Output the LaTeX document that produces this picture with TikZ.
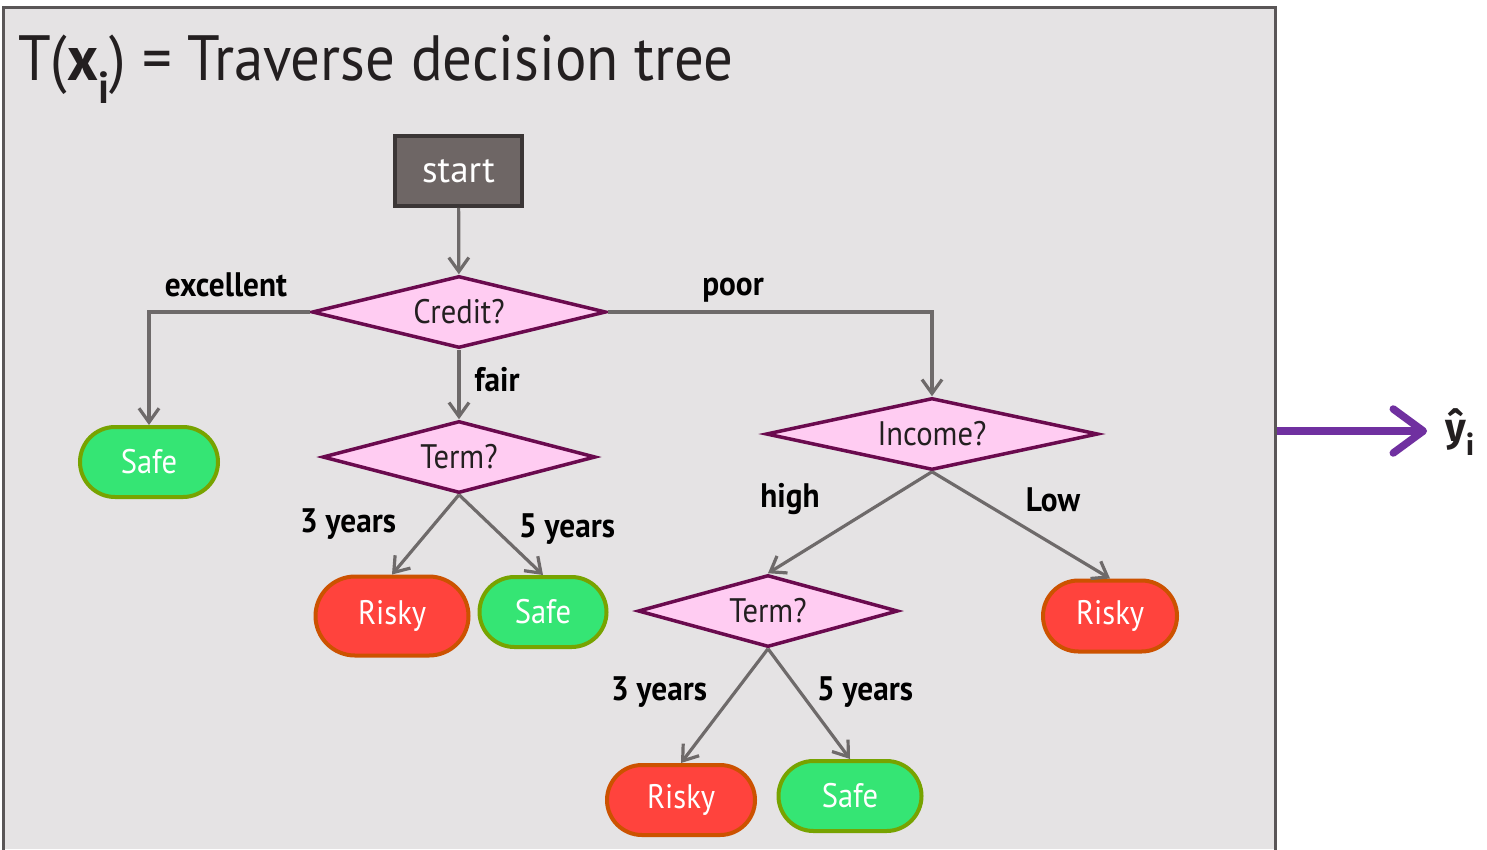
\documentclass[tikz,border=0pt]{standalone}
\usepackage{fontspec}
\setmainfont{PT Sans}
\newfontfamily\yfont{Fira Sans}
\usetikzlibrary{shapes.geometric,shapes.misc,arrows.meta}
\definecolor{bgc}{HTML}{E5E3E4}
\definecolor{framec}{HTML}{5A5657}
\definecolor{startfill}{HTML}{6E6665}
\definecolor{startdraw}{HTML}{3B3636}
\definecolor{dfill}{HTML}{FFCCF2}
\definecolor{ddraw}{HTML}{6A0A4E}
\definecolor{gfill}{HTML}{35E574}
\definecolor{gdraw}{HTML}{77A300}
\definecolor{rfill}{HTML}{FF433D}
\definecolor{rdraw}{HTML}{CC5200}
\definecolor{egray}{HTML}{6E6A6A}
\definecolor{purp}{HTML}{7030A0}
\definecolor{txt}{HTML}{231F20}
\newcommand{\nf}{\fontsize{34}{40}\selectfont}
\newcommand{\lf}{\fontsize{34}{40}\selectfont\bfseries}
\newcommand{\sq}[1]{\scalebox{0.9}[1]{#1}}
\newcommand{\sqlab}[1]{\scalebox{0.92}[1]{#1}}
\begin{document}
\begin{tikzpicture}[x=1pt,y=-1pt,
  startbox/.style={rectangle, fill=startfill, draw=startdraw, line width=3.5pt, minimum width=127pt, minimum height=70pt, text=white, font=\fontsize{37}{42}\selectfont, inner sep=0pt},
  dia/.style={diamond, fill=dfill, draw=ddraw, line width=3.5pt, inner sep=0pt, text=txt, font=\nf},
  safe/.style={rounded rectangle, fill=gfill, draw=gdraw, line width=4pt, text=white, font=\nf, minimum height=70pt, inner sep=0pt},
  risky/.style={rounded rectangle, fill=rfill, draw=rdraw, line width=4pt, text=white, font=\nf, minimum height=72pt, inner sep=0pt},
  conn/.style={draw=egray, line width=3.2pt, -{Straight Barb[length=14pt,width=20pt]}},
  lab/.style={text=black, font=\lf, inner sep=0pt}
]
\useasboundingbox (0,0) rectangle (1487,849);
\fill[white] (0,0) rectangle (1487,849);
\fill[bgc] (3,7) rectangle (1275,849);
\draw[framec, line width=3pt] (3,852) -- (3,7) -- (1275,7) -- (1275,852);

\node[anchor=base west, text=txt, inner sep=0pt, font=\fontsize{64}{70}\selectfont] (title) at (18,80)
  {\scalebox{0.92}[1]{T(\textbf{x\textsubscript{i}}) = Traverse decision tree}};

\node[startbox] (start) at (458.5,171) {start};
\node[dia, aspect=4.08, minimum width=294pt, minimum height=72pt] (credit) at (459,312) {\sq{Credit?}};
\node[dia, aspect=3.79, minimum width=273pt, minimum height=72pt] (term1) at (459,457) {\sq{Term?}};
\node[dia, aspect=4.61, minimum width=332pt, minimum height=72pt] (income) at (932,434) {\sq{Income?}};
\node[dia, aspect=3.61, minimum width=260pt, minimum height=72pt] (term2) at (768,611) {\sq{Term?}};

\node[safe, minimum width=138pt] (safe1) at (149,462) {\sq{Safe}};
\node[risky, minimum width=153pt, minimum height=79pt] (risky1) at (392,616) {\sq{Risky}};
\node[safe, minimum width=127pt] (safe2) at (543,612) {\sq{Safe}};
\node[risky, minimum width=134pt, minimum height=71pt] (risky2) at (1110,616) {\sq{Risky}};
\node[risky, minimum width=148pt, minimum height=70pt] (risky3) at (681,800) {\sq{Risky}};
\node[safe, minimum width=143pt] (safe3) at (850,796) {\sq{Safe}};

\draw[conn] (start) -- (credit);
\draw[conn] (credit.west) -| (safe1.north);
\draw[conn] (credit.east) -| (income.north);
\draw[conn] (credit) -- (term1);
\draw[conn] (term1.south) -- (risky1.north);
\draw[conn] (term1.south) -- (safe2.north);
\draw[conn] (income.south) -- (term2.north);
\draw[conn] (income.south) -- (risky2.north);
\draw[conn] (term2.south) -- (risky3.north);
\draw[conn] (term2.south) -- (safe3.north);

\node[lab] (lexc) at (226,285) {\sqlab{excellent}};
\node[lab] (lpoor) at (733,290) {\sqlab{poor}};
\node[lab] (lfair) at (497,380) {\sqlab{fair}};
\node[lab] (l3a) at (348,524) {\sqlab{3 years}};
\node[lab] (l5a) at (567,529) {\sqlab{5 years}};
\node[lab] (lhigh) at (790,499) {\sqlab{high}};
\node[lab] (llow) at (1053,500) {\sqlab{Low}};
\node[lab] (l3b) at (659,692) {\sqlab{3 years}};
\node[lab] (l5b) at (865,692) {\sqlab{5 years}};

\coordinate (aout) at (1277,431);
\coordinate (ain) at (1427,431);
\node[text=txt, inner sep=0pt, font=\fontsize{40}{46}\selectfont\yfont\bfseries] (yhat) at (1460,432) {ŷ\textsubscript{i}};
\draw[purp, line width=7.5pt, -{Straight Barb[length=30pt,width=44pt,line cap=round,round]}] (aout) -- (ain);
\end{tikzpicture}
\end{document}
